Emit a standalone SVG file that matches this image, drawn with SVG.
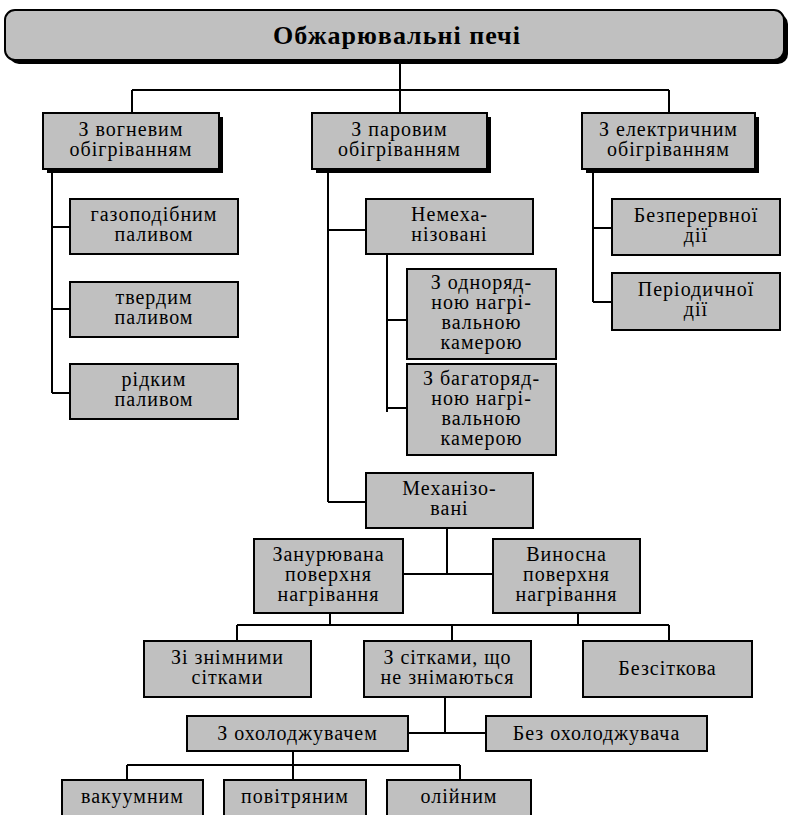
<svg xmlns="http://www.w3.org/2000/svg" width="791" height="815" viewBox="0 0 791 815">
<style>
.box{fill:#c0c0c0;stroke:#000;stroke-width:2}
.sh{fill:#000}
.t{font-family:"Liberation Serif","Times New Roman",serif;font-size:20px;letter-spacing:1px;text-anchor:middle;fill:#000}
.h{font-family:"Liberation Serif","Times New Roman",serif;font-size:26px;letter-spacing:1px;font-weight:bold;text-anchor:middle;fill:#000}
.c{fill:none;stroke:#000;stroke-width:2}
</style>
<rect width="791" height="815" fill="#fff"/>
<g id="connectors" class="c">
<path d="M400 62V90M132 90H669M132 90V113M400 90V113M669 90V113"/>
<path d="M52 169V393M52 227H70M52 309H70M52 393H70"/>
<path d="M328 169V502M328 230H366M328 502H366"/>
<path d="M387 254V412M387 320H407M387 408H407"/>
<path d="M593 170V302M593 228H612M593 302H612"/>
<path d="M447 528V574M403 574H493"/>
<path d="M330 613V625M578 613V625M237 625H669M237 625V641M452 625V641M669 625V641"/>
<path d="M445 697V733M408 733H486"/>
<path d="M293 751V765M127 765H460M127 765V780M293 765V780M460 765V780"/>
</g>
<g id="root">
<rect class="sh" x="9" y="14" width="779" height="50" rx="10"/>
<rect class="box" x="5" y="10" width="779" height="50" rx="10"/>
<text class="h" x="397" y="44">Обжарювальні печі</text>
</g>
<g id="n1">
<rect class="sh" x="47" y="117" width="176" height="56"/>
<rect class="box" x="43" y="113" width="176" height="56"/>
<text class="t" x="131" y="136">З вогневим</text>
<text class="t" x="131" y="156">обігріванням</text>
</g>
<g id="n2">
<rect class="sh" x="316" y="117" width="175" height="56"/>
<rect class="box" x="312" y="113" width="175" height="56"/>
<text class="t" x="399.5" y="136">З паровим</text>
<text class="t" x="399.5" y="156">обігріванням</text>
</g>
<g id="n3">
<rect class="sh" x="586" y="117" width="173" height="56"/>
<rect class="box" x="582" y="113" width="173" height="56"/>
<text class="t" x="668.5" y="136">З електричним</text>
<text class="t" x="668.5" y="156">обігріванням</text>
</g>
<g id="gas">
<rect class="box" x="70" y="199" width="168" height="55"/>
<text class="t" x="154" y="221">газоподібним</text>
<text class="t" x="154" y="241">паливом</text>
</g>
<g id="tverd">
<rect class="box" x="70" y="282" width="168" height="55"/>
<text class="t" x="154" y="304">твердим</text>
<text class="t" x="154" y="324">паливом</text>
</g>
<g id="ridk">
<rect class="box" x="70" y="364" width="168" height="55"/>
<text class="t" x="154" y="386">рідким</text>
<text class="t" x="154" y="406">паливом</text>
</g>
<g id="bezper">
<rect class="box" x="612" y="199" width="168" height="56"/>
<text class="t" x="696" y="222">Безперервної</text>
<text class="t" x="696" y="242">дії</text>
</g>
<g id="period">
<rect class="box" x="612" y="273" width="168" height="57"/>
<text class="t" x="696" y="296">Періодичної</text>
<text class="t" x="696" y="316">дії</text>
</g>
<g id="nemeh">
<rect class="box" x="366" y="199" width="167" height="55"/>
<text class="t" x="449.5" y="221">Немеха-</text>
<text class="t" x="449.5" y="241">нізовані</text>
</g>
<g id="odnor">
<rect class="box" x="407" y="269" width="149" height="90"/>
<text class="t" x="481.5" y="289">З одноряд-</text>
<text class="t" x="481.5" y="309">ною нагрі-</text>
<text class="t" x="481.5" y="329">вальною</text>
<text class="t" x="481.5" y="349">камерою</text>
</g>
<g id="bagat">
<rect class="box" x="407" y="364" width="149" height="91"/>
<text class="t" x="481.5" y="385">З багаторяд-</text>
<text class="t" x="481.5" y="405">ною нагрі-</text>
<text class="t" x="481.5" y="425">вальною</text>
<text class="t" x="481.5" y="445">камерою</text>
</g>
<g id="mekh">
<rect class="box" x="366" y="473" width="167" height="55"/>
<text class="t" x="449.5" y="495">Механізо-</text>
<text class="t" x="449.5" y="515">вані</text>
</g>
<g id="zanur">
<rect class="box" x="254" y="539" width="149" height="74"/>
<text class="t" x="328.5" y="561">Занурювана</text>
<text class="t" x="328.5" y="581">поверхня</text>
<text class="t" x="328.5" y="601">нагрівання</text>
</g>
<g id="vynos">
<rect class="box" x="493" y="539" width="147" height="74"/>
<text class="t" x="566.5" y="561">Виносна</text>
<text class="t" x="566.5" y="581">поверхня</text>
<text class="t" x="566.5" y="601">нагрівання</text>
</g>
<g id="zizn">
<rect class="box" x="144" y="641" width="167" height="56"/>
<text class="t" x="227.5" y="664">Зі знімними</text>
<text class="t" x="227.5" y="684">сітками</text>
</g>
<g id="zsitk">
<rect class="box" x="364" y="641" width="167" height="56"/>
<text class="t" x="447.5" y="664">З сітками, що</text>
<text class="t" x="447.5" y="684">не знімаються</text>
</g>
<g id="bezsit">
<rect class="box" x="583" y="641" width="169" height="56"/>
<text class="t" x="667.5" y="675">Безсіткова</text>
</g>
<g id="zoxol">
<rect class="box" x="187" y="716" width="221" height="35"/>
<text class="t" x="297.5" y="740">З охолоджувачем</text>
</g>
<g id="bezoxol">
<rect class="box" x="486" y="716" width="221" height="35"/>
<text class="t" x="596.5" y="740">Без охолоджувача</text>
</g>
<g id="vak">
<rect class="box" x="62" y="780" width="141" height="45"/>
<text class="t" x="132.5" y="803">вакуумним</text>
</g>
<g id="povitr">
<rect class="box" x="224" y="780" width="142" height="45"/>
<text class="t" x="295" y="803">повітряним</text>
</g>
<g id="oliy">
<rect class="box" x="387" y="780" width="144" height="45"/>
<text class="t" x="459" y="803">олійним</text>
</g>
</svg>
